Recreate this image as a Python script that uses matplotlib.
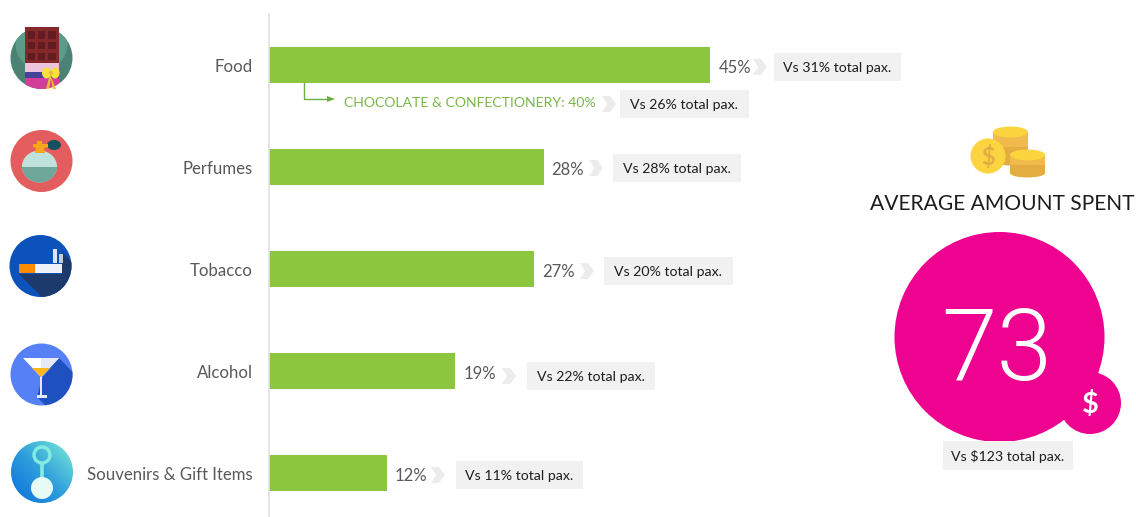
import numpy as np
import matplotlib
matplotlib.use("Agg")
import matplotlib.pyplot as plt
from matplotlib.colors import LinearSegmentedColormap
from matplotlib.patches import Circle, Rectangle, Polygon, Ellipse

plt.rcParams["font.family"] = ["Lato", "DejaVu Sans"]

# Data
categories = ["Food", "Perfumes", "Tobacco", "Alcohol", "Souvenirs & Gift Items"]
shares = [45, 28, 27, 19, 12]
total_pax = [31, 28, 20, 22, 11]
sub_category = "CHOCOLATE & CONFECTIONERY"
sub_share = 40
sub_total_pax = 26
average_spent = 73
average_total_pax = 123

# Layout, in pixels
W, H = 1136, 517
AXIS_X, PX_PER_PCT = 269, 9.81
ROW0_Y, ROW_STEP, BAR_H = 65, 102.1, 36
box_left = [774, 613, 604, 527, 456]
box_right = [901, 741, 733, 655, 583]
box_top = [53, 154, 257, 362, 461]
chevron_x = [753, 589, 580, 502, 431]

GREEN = "#8cc63f"
GREY_TEXT = "#595959"
BOX = "#f1f1f1"
CHEV = "#ececec"
PINK = "#ee0290"

fig = plt.figure(figsize=(W / 100, H / 100), dpi=100, facecolor="white")

# Bar chart: y runs in row units, x in percent
ax = fig.add_axes([AXIS_X / W, 0, 1 - AXIS_X / W, 1 - 14 / H])
ax.set_xlim(0, (W - AXIS_X) / PX_PER_PCT)
ax.set_ylim((H - ROW0_Y) / ROW_STEP, (14 - ROW0_Y) / ROW_STEP)
ax.barh(range(len(shares)), shares, height=BAR_H / ROW_STEP, color=GREEN, zorder=2)
ax.set_yticks(range(len(categories)), categories)
ax.set_xticks([])
ax.tick_params(axis="y", length=0, pad=11.5, labelsize=12.1, labelcolor=GREY_TEXT)
for side in ("top", "right", "bottom"):
    ax.spines[side].set_visible(False)
ax.spines["left"].set_color("#e2e2e2")
ax.spines["left"].set_linewidth(1.2)
ax.patch.set_alpha(0)
for i, v in enumerate(shares):
    ax.annotate(f"{v}%", xy=(v, i), xytext=(8, -3), textcoords="offset pixels",
                ha="left", va="center", fontsize=12, color=GREY_TEXT)

# Overlay in pixel coordinates for call-outs, icons and the average badge
ov = fig.add_axes([0, 0, 1, 1], zorder=3)
ov.set_xlim(0, W)
ov.set_ylim(H, 0)
ov.axis("off")


def chevron(x, cy, w=14, h=16, color=CHEV):
    notch = 5
    ov.add_patch(Polygon([(x, cy - h / 2), (x + w - 6, cy - h / 2), (x + w, cy),
                          (x + w - 6, cy + h / 2), (x, cy + h / 2), (x + notch, cy)],
                         closed=True, fc=color, ec="none"))


def callout(x0, x1, top, text, h=28):
    ov.add_patch(Rectangle((x0, top), x1 - x0, h, fc=BOX, ec="none"))
    ov.text((x0 + x1) / 2, top + h / 2 + 1, text, ha="center", va="center",
            fontsize=10.2, color="#1e1e1e")


for i, tp in enumerate(total_pax):
    callout(box_left[i], box_right[i], box_top[i], f"Vs {tp}% total pax.")
    chevron(chevron_x[i], box_top[i] + 14)

# Sub-category branch under the first bar
ov.plot([304, 304, 328], [83, 99, 99], color="#6fae45", lw=1)
ov.add_patch(Polygon([(327, 96), (335, 99), (327, 102)], closed=True, fc="#6fae45", ec="none"))
ov.text(344, 103, f"{sub_category}: {sub_share}%", ha="left", va="center",
        fontsize=10.1, color="#7ab648")
chevron(602, 104)
callout(620, 749, 90, f"Vs {sub_total_pax}% total pax.")


def disc(cx, cy, r, color):
    c = Circle((cx, cy), r, fc=color, ec="none")
    ov.add_patch(c)
    return c


def clipped(patch, clip):
    ov.add_patch(patch)
    patch.set_clip_path(clip)
    return patch


# Chocolate bar icon
cx, cy = 41.5, 58
base = disc(cx, cy, 31, "#4b8273")
clipped(Circle((cx, cy - 14), 26, fc="#5c9a8a", ec="none"), base)
ov.add_patch(Rectangle((24.5, 27), 34, 36, fc="#86272a", ec="none"))
for row in range(3):
    for col in range(3):
        ov.add_patch(Rectangle((27.5 + col * 10.3, 31 + row * 10.8), 7.5, 7.5, fc="#601c20", ec="none"))
ov.add_patch(Rectangle((24.5, 63), 34, 9, fc="#ecc4de", ec="none"))
ov.add_patch(Rectangle((24.5, 72), 34, 5.5, fc="#46419a", ec="none"))
clipped(Rectangle((24.5, 77.5), 34, 14, fc="#d23f98", ec="none"), base)
ov.add_patch(Polygon([(50, 74), (46, 89), (49, 89), (51, 79), (53, 89), (56, 89)],
                     closed=True, fc="#eebd2e", ec="none"))
ov.add_patch(Ellipse((46.5, 73), 9, 11, fc="#f7e13e", ec="none"))
ov.add_patch(Ellipse((55, 73), 9, 11, fc="#f7e13e", ec="none"))
ov.add_patch(Circle((51, 73), 2, fc="#eebd2e", ec="none"))

# Perfume bottle icon
cx, cy = 41.5, 161
disc(cx, cy, 31, "#e35d5e")
ov.add_patch(Ellipse((54, 145), 14, 10, fc="#16505a", ec="none"))
bottle = Ellipse((39.5, 166.5), 35, 32, fc="#bfe3dc", ec="none")
ov.add_patch(bottle)
clipped(Rectangle((20, 167), 40, 20, fc="#6fa69a", ec="none"), bottle)
ov.add_patch(Polygon([(37, 141), (37, 144), (33, 144), (33, 147), (36, 148), (35, 153), (45, 153),
                      (44, 148), (48, 147), (48, 144), (42, 144), (42, 141)],
                     closed=True, fc="#f9a51a", ec="none"))

# Cigarette icon
cx, cy = 40.5, 266
base = disc(cx, cy, 31, "#0b52bb")
clipped(Polygon([(19, 274), (62, 274), (62, 252), (80, 270), (60, 310), (55, 310)],
                closed=True, fc="#1c3a6b", ec="none"), base)
ov.add_patch(Rectangle((53, 249), 4, 14, fc="#dfe5f0", ec="none"))
ov.add_patch(Rectangle((58.5, 254), 4, 9, fc="#c2cde0", ec="none"))
ov.add_patch(Rectangle((19, 264), 16, 9, fc="#ff8a00", ec="none"))
ov.add_patch(Rectangle((35, 264), 27, 9, fc="#eef1f8", ec="none"))

# Cocktail glass icon
cx, cy = 41.5, 374.5
base = disc(cx, cy, 31, "#5680f5")
clipped(Polygon([(59, 358), (90, 390), (60, 420), (37, 397), (42, 378)],
                closed=True, fc="#1e50c0", ec="none"), base)
ov.add_patch(Polygon([(23, 358), (59, 358), (41, 377)], closed=True, fc="#ffffff", ec="none"))
ov.add_patch(Polygon([(41, 358), (59, 358), (41, 377)], closed=True, fc="#e6e9f7", ec="none"))
ov.add_patch(Polygon([(32, 368), (50, 368), (41, 377)], closed=True, fc="#ffb81c", ec="none"))
ov.add_patch(Rectangle((40, 377), 2, 19, fc="#e6e9f7", ec="none"))
ov.add_patch(Rectangle((37, 395), 10, 2.5, fc="#e6e9f7", ec="none"))

# Souvenir key-ring icon on a diagonal gradient
cx, cy, r = 42, 472, 31
gx, gy = np.meshgrid(np.linspace(0, 1, 64), np.linspace(0, 1, 64))
grad = (gx + (1 - gy)) / 2
cmap = LinearSegmentedColormap.from_list("keyring", ["#0a6fdc", "#2f9fdc", "#7cecd8"])
im = ov.imshow(grad, extent=(cx - r, cx + r, cy + r, cy - r), cmap=cmap, aspect="auto",
               origin="upper", zorder=1)
im.set_clip_path(Circle((cx, cy), r, transform=ov.transData))
ov.set_xlim(0, W)
ov.set_ylim(H, 0)
ov.add_patch(Circle((42, 455), 8, fc="none", ec="#86ece2", lw=2.4, zorder=2))
ov.plot([42, 42], [464, 477], color="#86ece2", lw=2.6, zorder=2)
ov.add_patch(Circle((42, 488), 11, fc="#e6fbf6", ec="none", zorder=2))


# Coin stack icon
def coins(x, top, w, h):
    ov.add_patch(Rectangle((x, top), w, h, fc="#e4ad42", ec="none"))
    ov.add_patch(Ellipse((x + w / 2, top + h), w, 9, fc="#e4ad42", ec="none"))
    ov.add_patch(Rectangle((x, top + 2), w, h * 0.45, fc="#f0bb4c", ec="none"))
    ov.add_patch(Ellipse((x + w / 2, top), w, 11, fc="#fbd540", ec="none"))


coins(993, 132, 35, 29)
ov.add_patch(Ellipse((988, 156), 35, 35, fc="#fbd540", ec="none"))
ov.text(988, 157, "$", ha="center", va="center", fontsize=17, color="#e4ad42", fontweight="bold")
coins(1010, 155, 35, 18)

# Average amount badge
ov.text(1002.5, 204, "AVERAGE AMOUNT SPENT", ha="center", va="center", fontsize=15.1, color="#1c1c1c")
disc(999.5, 337, 105, PINK)
disc(1090, 403, 31, PINK)
ov.text(997, 380, f"{average_spent}", ha="center", va="baseline", fontsize=72, color="white",
        family="Roboto", fontweight=300)
ov.text(1090, 404, "$", ha="center", va="center", fontsize=21, color="white", fontweight="bold")
callout(943, 1073, 441, f"Vs ${average_total_pax} total pax.", h=29)

fig.savefig("out.png", dpi=100, facecolor="white")
